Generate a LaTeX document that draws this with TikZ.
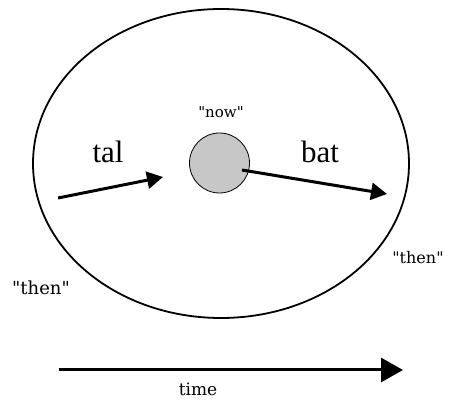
\documentclass[tikz,border=0pt]{standalone}
\usepackage{fontspec}
\newfontfamily\lblfont{DejaVu Serif}
\newfontfamily\bigfont{Liberation Serif}
\usetikzlibrary{arrows.meta,shapes.geometric}
\begin{document}
\begin{tikzpicture}[x=1pt,y=-1pt,
  arr/.style={line width=3pt,-{Triangle[length=16pt,width=17pt]}},
  bigarr/.style={line width=3pt,-{Triangle[length=22pt,width=24pt]}},
  lbl/.style={font=\lblfont\fontsize{17}{19}\selectfont,inner sep=0pt,anchor=base},
  big/.style={font=\bigfont\fontsize{31}{33}\selectfont,inner sep=0pt,anchor=base}]
\useasboundingbox (0,0) rectangle (451,401);
\node[draw,line width=1.8pt,ellipse,minimum width=376pt,minimum height=309pt,inner sep=0pt] (outer) at (221,163.5) {};
\node[draw,line width=0.8pt,circle,fill=black!22,minimum size=60pt,inner sep=0pt] (now) at (219.5,163) {};
\node[lbl,font=\lblfont\fontsize{15}{17}\selectfont] (nowl) at (221,118) {"now"};
\node[big] (tal) at (108,163) {tal};
\node[big] (bat) at (320,163) {bat};
\node[lbl,font=\lblfont\fontsize{18}{20}\selectfont] (then1) at (41,295) {"then"};
\node[lbl,font=\lblfont\fontsize{16}{18}\selectfont] (then2) at (418,264) {"then"};
\node[lbl] (timel) at (198,396) {time};
\coordinate (a1) at (58,198);
\coordinate (a2) at (163,177);
\coordinate (b1) at (242,170);
\coordinate (b2) at (387,194);
\coordinate (t1) at (59,370);
\coordinate (t2) at (403,370);
\draw[arr] (a1) -- (a2);
\draw[arr] (b1) -- (b2);
\draw[bigarr] (t1) -- (t2);
\end{tikzpicture}
\end{document}
